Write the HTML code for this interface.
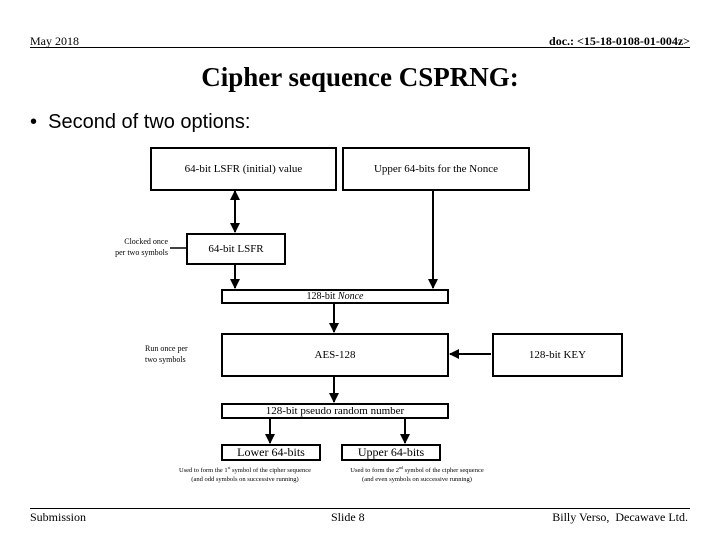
<!DOCTYPE html>
<html><head><style>
body{margin:0;width:720px;height:540px;background:#fff;position:relative;overflow:hidden;font-family:"Liberation Serif",serif;color:#000}
.a{position:absolute;white-space:nowrap}
.b{position:absolute;border:2px solid #000;box-sizing:border-box;display:flex;align-items:center;justify-content:center;font-size:11px;background:#fff}
</style></head><body>
<div class="a" style="left:30px;top:34px;font-size:12px">May 2018</div>
<div class="a" style="right:30px;top:34px;font-size:12px;font-weight:bold">doc.: &lt;15-18-0108-01-004z&gt;</div>
<div class="a" style="left:30px;top:47px;width:660px;border-top:1.5px solid #000"></div>
<div class="a" style="left:0;width:720px;text-align:center;top:62px;font-size:27px;font-weight:bold">Cipher sequence CSPRNG:</div>
<div class="a" style="left:30px;top:111px;font-size:20px;font-family:'Liberation Sans',sans-serif">•&nbsp; Second of two options:</div>

<svg class="a" style="left:0;top:0" width="720" height="540">
<defs><marker id="m" markerWidth="10" markerHeight="10" refX="9" refY="5" orient="auto" markerUnits="userSpaceOnUse"><path d="M0,0L10,5L0,10z"/></marker>
<marker id="ms" markerWidth="10" markerHeight="10" refX="1" refY="5" orient="auto" markerUnits="userSpaceOnUse"><path d="M10,0L0,5L10,10z"/></marker></defs>
<g stroke="#000" stroke-width="2" fill="none">
<line x1="235" y1="191" x2="235" y2="232" marker-start="url(#ms)" marker-end="url(#m)"/>
<line x1="235" y1="265" x2="235" y2="288" marker-end="url(#m)"/>
<line x1="433" y1="191" x2="433" y2="288" marker-end="url(#m)"/>
<line x1="334" y1="304" x2="334" y2="332" marker-end="url(#m)"/>
<line x1="491" y1="354" x2="450" y2="354" marker-end="url(#m)"/>
<line x1="334" y1="377" x2="334" y2="402" marker-end="url(#m)"/>
<line x1="270" y1="419" x2="270" y2="443" marker-end="url(#m)"/>
<line x1="405" y1="419" x2="405" y2="443" marker-end="url(#m)"/>
<line x1="170" y1="248" x2="186" y2="248" stroke-width="1.5"/>
<path d="M188,245L192,248L188,251" stroke-width="0.8"/>
<path d="M223,351L227,354L223,357" stroke-width="0.8"/>
</g></svg>

<div class="b" style="left:150px;top:147px;width:187px;height:44px">64-bit LSFR (initial) value</div>
<div class="b" style="left:342px;top:147px;width:188px;height:44px">Upper 64-bits for the Nonce</div>
<div class="b" style="left:186px;top:233px;width:100px;height:32px">64-bit LSFR</div>
<div class="b" style="left:221px;top:289px;width:228px;height:15px;font-size:10px">128-bit&nbsp;<i>Nonce</i></div>
<div class="b" style="left:221px;top:333px;width:228px;height:44px">AES-128</div>
<div class="b" style="left:492px;top:333px;width:131px;height:44px">128-bit KEY</div>
<div class="b" style="left:221px;top:403px;width:228px;height:16px">128-bit pseudo random number</div>
<div class="b" style="left:221px;top:444px;width:100px;height:17px;font-size:12px">Lower 64-bits</div>
<div class="b" style="left:341px;top:444px;width:100px;height:17px;font-size:12px">Upper 64-bits</div>

<div class="a" style="left:110px;top:236px;font-size:8px;line-height:11px;text-align:right;width:58px">Clocked once<br>per two symbols</div>
<div class="a" style="left:145px;top:343px;font-size:8px;line-height:11px;width:70px">Run once per<br>two symbols</div>
<div class="a" style="left:160px;top:463px;font-size:6.5px;line-height:9px;text-align:center;width:170px">Used to form the 1<sup style="font-size:4px">st</sup> symbol of the cipher sequence<br>(and odd symbols on successive running)</div>
<div class="a" style="left:332px;top:463px;font-size:6.5px;line-height:9px;text-align:center;width:170px">Used to form the 2<sup style="font-size:4px">nd</sup> symbol of the cipher sequence<br>(and even symbols on successive running)</div>

<div class="a" style="left:30px;top:508px;width:660px;border-top:1.5px solid #000"></div>
<div class="a" style="left:30px;top:510px;font-size:12px">Submission</div>
<div class="a" style="left:331px;top:510px;font-size:12px">Slide 8</div>
<div class="a" style="right:32px;top:510px;font-size:12px">Billy Verso,&nbsp; Decawave Ltd.</div>
</body></html>
